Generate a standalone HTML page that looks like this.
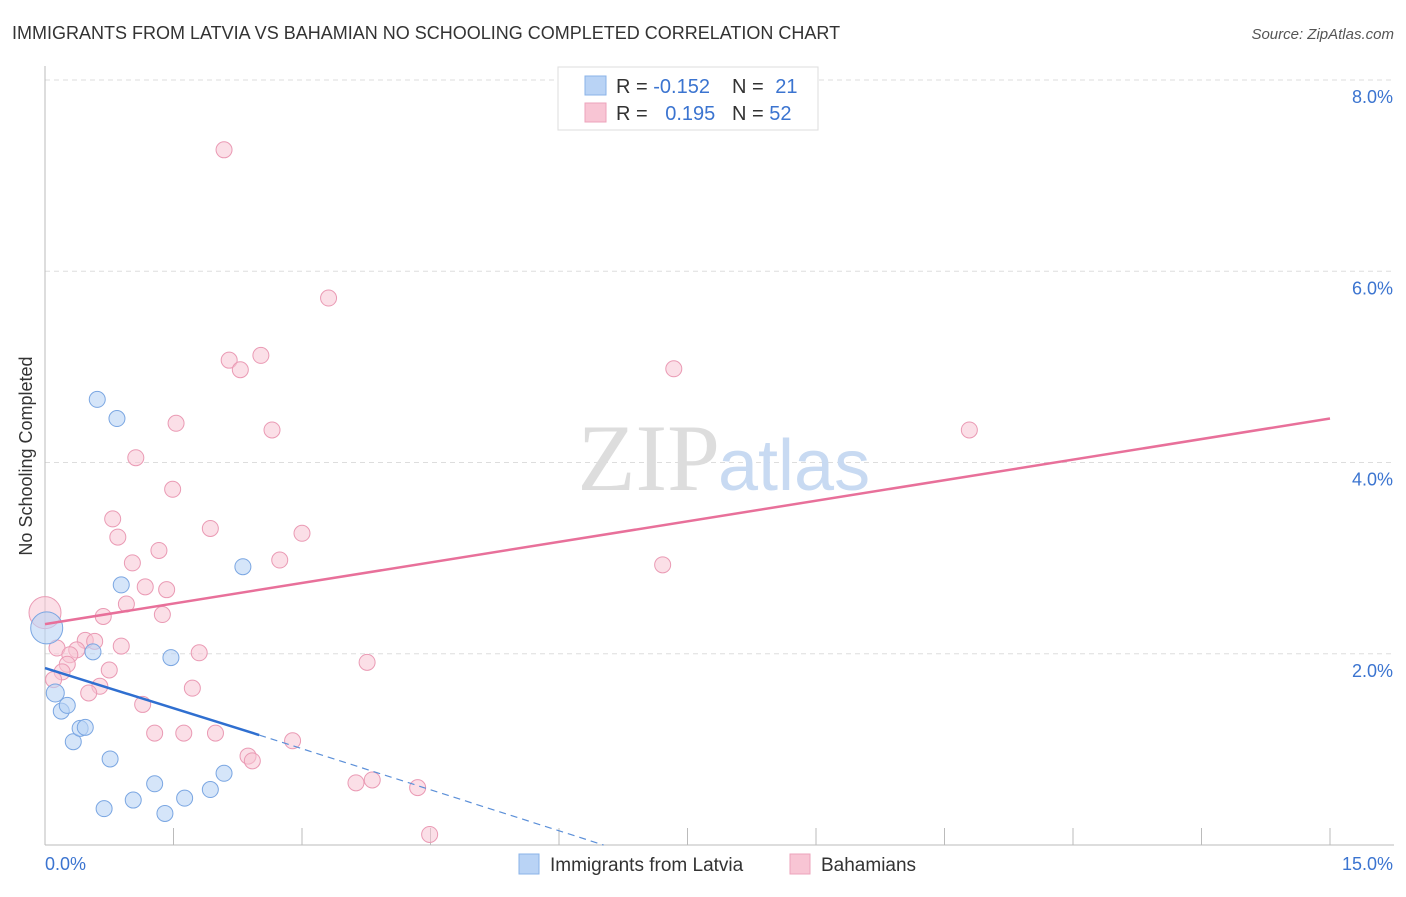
<!DOCTYPE html>
<html><head><meta charset="utf-8"><style>
body{margin:0;background:#fff;font-family:"Liberation Sans",sans-serif}
</style></head><body>
<svg width="1406" height="892" xmlns="http://www.w3.org/2000/svg" font-family="Liberation Sans, sans-serif">
<text x="12" y="39" font-size="18" fill="#333">IMMIGRANTS FROM LATVIA VS BAHAMIAN NO SCHOOLING COMPLETED CORRELATION CHART</text>
<text x="1394" y="39" font-size="15" fill="#555" font-style="italic" text-anchor="end">Source: ZipAtlas.com</text>
<g id="grid"></g>
<text x="720" y="490" font-size="95" fill="#ddd" font-family="Liberation Serif, serif" text-anchor="end">ZIP</text>
<text x="718" y="490" font-size="72" fill="#c8daf2">atlas</text>
<text x="32" y="456" font-size="18" fill="#333" text-anchor="middle" transform="rotate(-90 32 456)">No Schooling Completed</text>
<g id="marks"></g>
<g>
<rect x="558" y="67" width="260" height="63" fill="#fff" stroke="#ddd"/>
<rect x="585" y="76" width="21" height="19" fill="#b9d3f5" stroke="#8ab3e8"/>
<rect x="585" y="103" width="21" height="19" fill="#f8c5d4" stroke="#eda3bb"/>
<text x="616" y="93" font-size="20" fill="#333">R = <tspan fill="#3b74d0">-0.152</tspan></text>
<text x="732" y="93" font-size="20" fill="#333">N = <tspan fill="#3b74d0" dx="6">21</tspan></text>
<text x="616" y="120" font-size="20" fill="#333">R = <tspan fill="#3b74d0" dx="12">0.195</tspan></text>
<text x="732" y="120" font-size="20" fill="#333">N = <tspan fill="#3b74d0">52</tspan></text>
</g>
<g>
<rect x="519" y="854" width="20" height="20" fill="#b9d3f5" stroke="#8ab3e8"/>
<text x="550" y="871" font-size="19" fill="#333">Immigrants from Latvia</text>
<rect x="790" y="854" width="20" height="20" fill="#f8c5d4" stroke="#eda3bb"/>
<text x="821" y="871" font-size="19" fill="#333">Bahamians</text>
</g>
</svg>
<script>
const yTicks=[2,4,6,8];
const yTickLabels=["2.0%","4.0%","6.0%","8.0%"];
const xTickLabels=["0.0%","15.0%"];
const blueX=[0.61,0.84,0.89,2.31,0.56,1.47,0.02,0.12,0.19,0.26,0.33,0.41,0.47,0.76,1.28,1.03,0.69,1.4,1.63,1.93,2.09];
const blueY=[4.66,4.46,2.72,2.91,2.02,1.96,2.27,1.59,1.4,1.46,1.08,1.22,1.23,0.9,0.64,0.47,0.38,0.33,0.49,0.58,0.75];
const blueR=[8,8,8,8,8,8,16,9,8,8,8,8,8,8,8,8,8,8,8,8,8];
const pinkX=[2.09,3.31,2.15,2.52,2.28,7.34,10.79,1.53,2.65,1.06,1.49,0.79,1.93,0.85,3.0,1.33,1.02,2.74,7.21,1.17,1.42,0.95,0.68,1.37,0.0,0.47,0.58,0.89,0.14,0.37,0.29,1.8,0.26,0.75,0.2,3.76,0.64,1.72,0.51,1.14,1.28,1.62,1.99,2.89,2.37,2.42,3.63,3.82,4.35,4.49,0.1];
const pinkY=[7.27,5.72,5.07,5.12,4.97,4.98,4.34,4.41,4.34,4.05,3.72,3.41,3.31,3.22,3.26,3.08,2.95,2.98,2.93,2.7,2.67,2.52,2.39,2.41,2.43,2.14,2.13,2.08,2.06,2.04,1.99,2.01,1.89,1.83,1.81,1.91,1.66,1.64,1.59,1.47,1.17,1.17,1.17,1.09,0.93,0.88,0.65,0.68,0.6,0.11,1.73];
const pinkR=[8,8,8,8,8,8,8,8,8,8,8,8,8,8,8,8,8,8,8,8,8,8,8,8,16,8,8,8,8,8,8,8,8,8,8,8,8,8,8,8,8,8,8,8,8,8,8,8,8,8,8];
const blueLine=[[0,1.85],[2.5,1.15]];
const blueDash=[[2.5,1.15],[6.52,0]];
const pinkLine=[[0,2.31],[15,4.46]];
const NS="http://www.w3.org/2000/svg";
const X0=45,X1=1330,YB=845,YT=80;
const sx=v=>X0+(v/15)*(X1-X0);
const sy=v=>YB-(v/8)*(YB-YT);
function mk(t,a,p){const e=document.createElementNS(NS,t);for(const k in a)e.setAttribute(k,a[k]);p.appendChild(e);return e;}
const grid=document.getElementById('grid'),marks=document.getElementById('marks');
yTicks.forEach((t,i)=>{
const g=mk('line',{x1:X0,x2:1394,y1:sy(t),y2:sy(t),stroke:'#ddd','stroke-dasharray':'5,4'},grid);


const tx=mk('text',{x:1393,y:sy(t)+23,'font-size':18,fill:'#3b74d0','text-anchor':'end'},grid);
tx.textContent=yTickLabels[i];


});
const ax=mk('line',{x1:X0,x2:X0,y1:66,y2:YB,stroke:'#bbb'},grid);


const bx=mk('line',{x1:X0,x2:1394,y1:YB,y2:YB,stroke:'#bbb'},grid);


for(let i=0;i<=10;i++){const x=sx(i*1.5);const t=mk('line',{x1:x,x2:x,y1:828,y2:YB,stroke:'#bbb'},grid);

}
const l0=mk('text',{x:45,y:870,'font-size':18,fill:'#3b74d0'},grid);l0.textContent=xTickLabels[0];


const l1=mk('text',{x:1393,y:870,'font-size':18,fill:'#3b74d0','text-anchor':'end'},grid);l1.textContent=xTickLabels[1];


pinkX.forEach((v,i)=>{const c=mk('circle',{cx:sx(v),cy:sy(pinkY[i]),r:pinkR[i],fill:'#f8c5d4','fill-opacity':0.55,stroke:'#ea9ab4','stroke-width':1},marks);

});
blueX.forEach((v,i)=>{const c=mk('circle',{cx:sx(v),cy:sy(blueY[i]),r:blueR[i],fill:'#b9d3f5','fill-opacity':0.6,stroke:'#7aa6e2','stroke-width':1},marks);

});
const pl=mk('line',{x1:sx(pinkLine[0][0]),y1:sy(pinkLine[0][1]),x2:sx(pinkLine[1][0]),y2:sy(pinkLine[1][1]),stroke:'#e8709a','stroke-width':2.5},marks);


const bl=mk('line',{x1:sx(blueLine[0][0]),y1:sy(blueLine[0][1]),x2:sx(blueLine[1][0]),y2:sy(blueLine[1][1]),stroke:'#2f6fd0','stroke-width':2.5},marks);


const bd=mk('line',{x1:sx(blueDash[0][0]),y1:sy(blueDash[0][1]),x2:sx(blueDash[1][0]),y2:sy(blueDash[1][1]),stroke:'#5b8fd8','stroke-width':1.2,'stroke-dasharray':'7,5'},marks);


</script>
</body></html>
